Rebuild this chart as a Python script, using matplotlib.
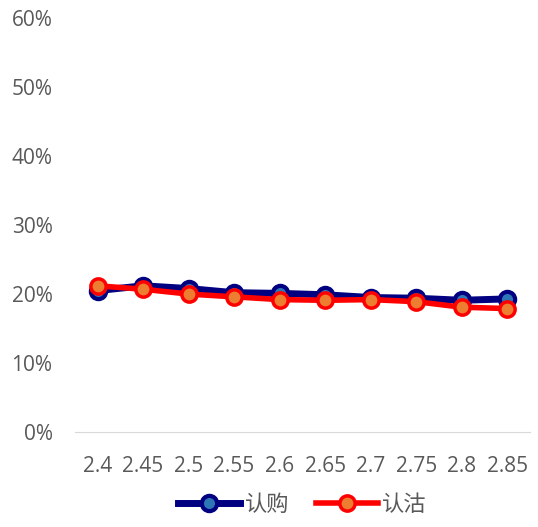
import matplotlib
matplotlib.use("Agg")
import matplotlib.pyplot as plt
from matplotlib.ticker import PercentFormatter

plt.rcParams['font.family'] = ['Open Sans', 'Noto Sans CJK SC', 'DejaVu Sans']

strikes = ["2.4", "2.45", "2.5", "2.55", "2.6", "2.65", "2.7", "2.75", "2.8", "2.85"]
call_iv = [20.5, 21.2, 20.8, 20.2, 20.1, 19.9, 19.5, 19.4, 19.1, 19.3]
put_iv = [21.2, 20.7, 20.0, 19.6, 19.2, 19.1, 19.2, 18.9, 18.1, 17.9]

fig = plt.figure(figsize=(5.38, 5.27), dpi=100)
ax = fig.add_axes([0.139, 0.180, 0.846, 0.786])

x = range(len(strikes))
ax.plot(x, call_iv, color="#000080", lw=5, marker="o", ms=11,
        mfc="#2E75B6", mec="#000080", mew=3, label="认购", zorder=3)
ax.plot(x, put_iv, color="#FF0000", lw=4, marker="o", ms=11,
        mfc="#ED7D31", mec="#FF0000", mew=2.5, label="认沽", zorder=4)

ax.set_ylim(0, 60)
ax.set_yticks(range(0, 61, 10))
ax.yaxis.set_major_formatter(PercentFormatter(decimals=0))
ax.set_xlim(-0.5, len(strikes) - 0.5)
ax.set_xticks(list(x))
ax.set_xticklabels(strikes)

for s in ["top", "right", "left"]:
    ax.spines[s].set_visible(False)
ax.spines["bottom"].set_color("#D9D9D9")
ax.tick_params(axis="both", length=0, labelsize=15, colors="#595959")
ax.tick_params(axis="y", pad=16)
ax.tick_params(axis="x", pad=17)

ax.legend(loc="upper center", bbox_to_anchor=(0.5, -0.14), ncol=2, frameon=False,
          fontsize=16, labelcolor="#595959", handlelength=2.8, columnspacing=1.2,
          handletextpad=0.2, borderaxespad=0.0, borderpad=0.2)

fig.savefig("out.png", dpi=100)
